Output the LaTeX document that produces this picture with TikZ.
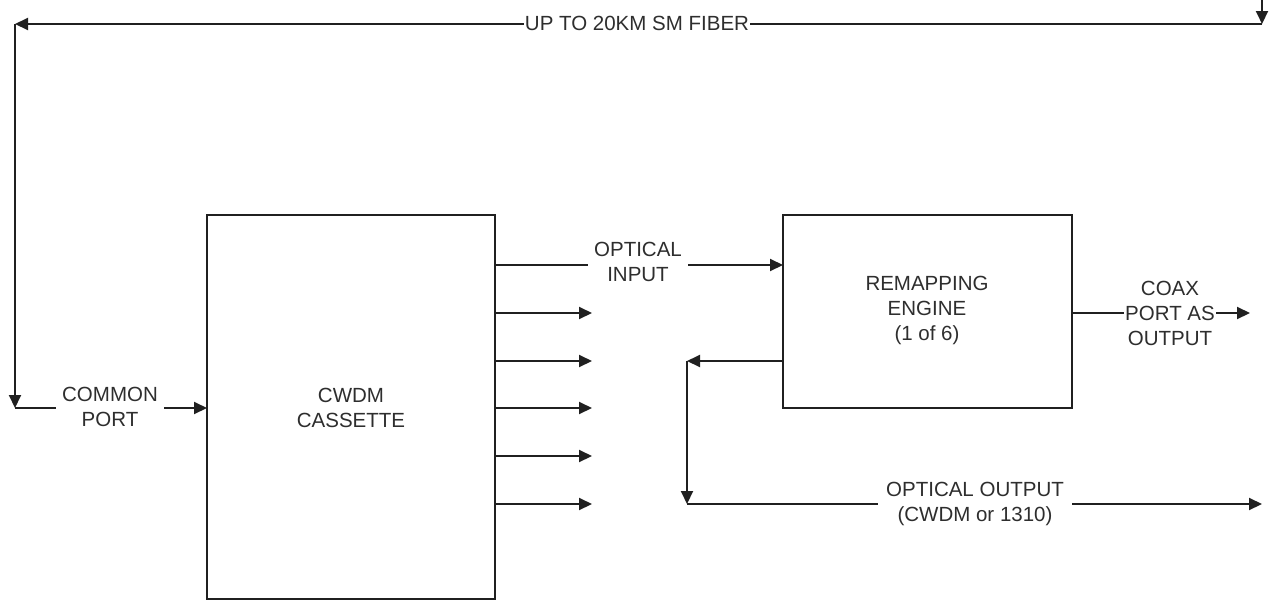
\documentclass[tikz,border=0pt]{standalone}
\usepackage{fontspec}
\setmainfont{Liberation Sans}
\usetikzlibrary{arrows.meta}
\definecolor{ln}{HTML}{202020}
\definecolor{tx}{HTML}{2E2E2E}
\tikzset{
  wire/.style={draw=ln, line width=2pt},
  arr/.style={wire, -{Triangle[length=13pt,width=12pt]}},
  blockbox/.style={draw=ln, line width=2pt, fill=white},
  lbl/.style={fill=white, text=tx, inner sep=2pt, align=center, font=\fontsize{20.5}{25}\selectfont},
  btxt/.style={text=tx, align=center, font=\fontsize{20.5}{25}\selectfont},
}
\begin{document}
\begin{tikzpicture}[x=1pt,y=-1pt]
\useasboundingbox (0,0) rectangle (1274,600);
% blocks
\draw[blockbox] (207,215) rectangle (495,599);
\node[btxt] (cwdm) at (351,408) {CWDM\\CASSETTE};
\draw[blockbox] (783,215) rectangle (1072,408);
\node[btxt] (remap) at (927,310) {REMAPPING\\ENGINE\\(1 of 6)};
\coordinate (cwdmW) at (207,408);
% fiber loop
\coordinate (topIn) at (1262,0);
\coordinate (topR) at (1262,24);
\coordinate (topL) at (15,24);
\coordinate (botL) at (15,408);
\draw[arr] (topIn) -- (topR);
\draw[arr] (topR) -- (topL);
\draw[arr] (topL) -- (botL);
\draw[arr] (botL) -- (cwdmW);
\node[lbl, inner xsep=1pt] (fiber) at (637,23) {UP TO 20KM SM FIBER};
\node[lbl, inner xsep=6pt] (common) at (110,407) {COMMON\\PORT};
% cassette outputs
\coordinate (o1) at (495,265);
\coordinate (rW) at (783,265);
\draw[arr] (o1) -- (rW);
\node[lbl, inner xsep=6pt] (optin) at (638,262) {OPTICAL\\INPUT};
\foreach \y/\n in {313/a,361/b,408/c,456/d,504/e}{
  \coordinate (s\n) at (495,\y);
  \coordinate (t\n) at (592,\y);
  \draw[arr] (s\n) -- (t\n);
}
% coax output
\coordinate (rE) at (1072,313);
\coordinate (coaxEnd) at (1250,313);
\draw[arr] (rE) -- (coaxEnd);
\node[lbl, inner xsep=1pt] (coax) at (1170,313) {COAX\\PORT AS\\OUTPUT};
% optical output
\coordinate (rL) at (783,361);
\coordinate (j1) at (687,361);
\coordinate (j2) at (687,504);
\coordinate (optEnd) at (1262,504);
\draw[arr] (rL) -- (j1);
\draw[arr] (j1) -- (j2);
\draw[arr] (j2) -- (optEnd);
\node[lbl, inner xsep=8pt] (optout) at (975,504) {OPTICAL OUTPUT\\(CWDM or 1310)};
\end{tikzpicture}
\end{document}
